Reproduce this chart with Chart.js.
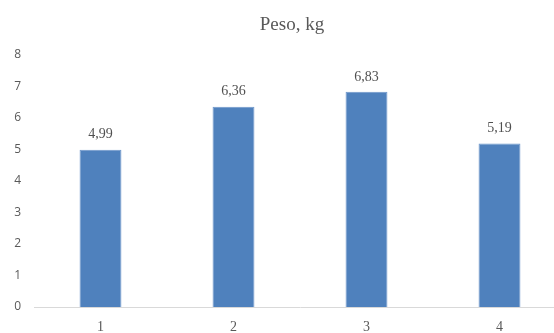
<!DOCTYPE html>
<html>
<head>
<meta charset="utf-8">
<script src="https://cdn.jsdelivr.net/npm/chart.js@4/dist/chart.umd.min.js"></script>
<style>
  html, body { margin: 0; padding: 0; background: #fff; overflow: hidden; }
  #wrap { width: 584px; height: 333px; }
</style>
</head>
<body>
<div id="wrap"><canvas id="c" width="584" height="333"></canvas></div>
<script>
const categories = ['1', '2', '3', '4'];
const pesoValues = [4.99, 6.36, 6.83, 5.19];
const yTicks = [0, 1, 2, 3, 4, 5, 6, 7, 8];
const chartTitle = 'Peso, kg';

const fmt = v => v.toFixed(2).replace('.', ',');

// Title centred over the whole canvas
const titlePlugin = {
  id: 'centeredTitle',
  afterDraw(chart) {
    const ctx = chart.ctx;
    ctx.save();
    ctx.font = '19px "Liberation Serif", serif';
    ctx.fillStyle = '#595959';
    ctx.textAlign = 'center';
    ctx.textBaseline = 'middle';
    ctx.fillText(chartTitle, chart.width / 2, 25);
    ctx.restore();
  }
};

// Value labels above each bar
const valueLabels = {
  id: 'valueLabels',
  afterDatasetsDraw(chart) {
    const ctx = chart.ctx;
    const meta = chart.getDatasetMeta(0);
    ctx.save();
    ctx.font = '14px "Liberation Serif", serif';
    ctx.fillStyle = '#505050';
    ctx.textAlign = 'center';
    ctx.textBaseline = 'middle';
    meta.data.forEach((bar, i) => {
      ctx.fillText(fmt(chart.data.datasets[0].data[i]), bar.x, bar.y - 15);
    });
    ctx.restore();
  }
};

new Chart(document.getElementById('c'), {
  type: 'bar',
  data: {
    labels: categories,
    datasets: [{
      data: pesoValues,
      backgroundColor: '#4F81BD',
      borderColor: '#6E97CB',
      borderWidth: 1,
      categoryPercentage: 1,
      barPercentage: 0.315
    }]
  },
  options: {
    responsive: false,
    animation: false,
    layout: { padding: { left: 0, right: 18, top: 55, bottom: 0 } },
    plugins: {
      legend: { display: false },
      title: { display: false },
      tooltip: { enabled: false }
    },
    scales: {
      x: {
        grid: { display: false, drawTicks: false },
        border: { display: true, color: '#D9D9D9', width: 1 },
        ticks: {
          color: '#595959',
          font: { family: '"Liberation Serif", serif', size: 14 },
          padding: 12
        },
        afterFit(s) { s.height = 26; }
      },
      y: {
        min: 0,
        max: 8,
        afterBuildTicks(s) { s.ticks = yTicks.map(v => ({ value: v })); },
        grid: { display: false, drawTicks: false },
        border: { display: false },
        ticks: {
          color: '#595959',
          font: { family: '"Open Sans", sans-serif', size: 12 },
          padding: 13
        },
        afterFit(s) { s.width = 34; }
      }
    }
  },
  plugins: [titlePlugin, valueLabels]
});
</script>
</body>
</html>
